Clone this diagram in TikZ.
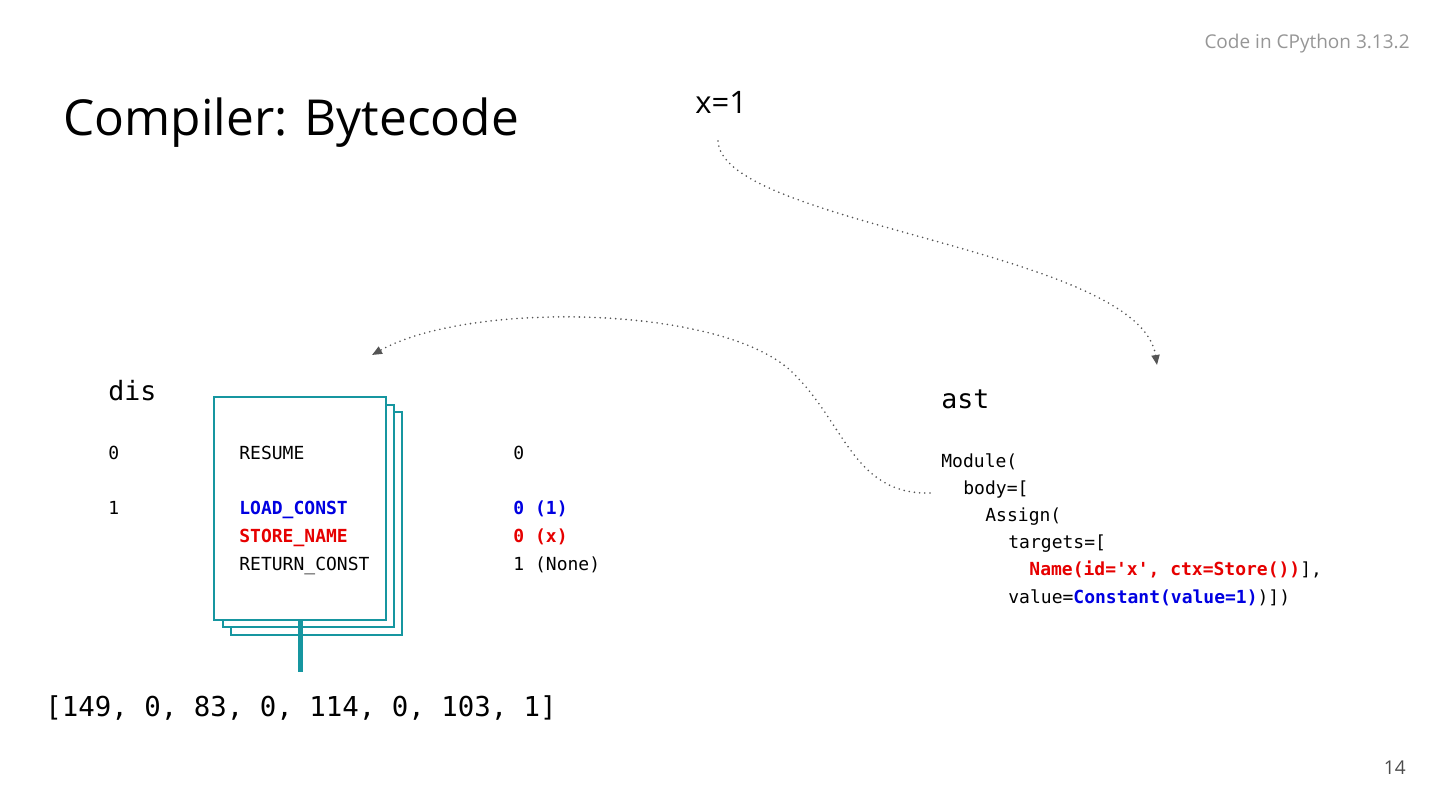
\documentclass[tikz,border=0pt]{standalone}
\usepackage{fontspec}
\setmainfont{Open Sans}
\newfontfamily\codefont{DejaVu Sans Mono}
\usetikzlibrary{arrows.meta, positioning, calc}
\definecolor{teal}{RGB}{22,150,160}
\definecolor{kwblue}{RGB}{0,0,225}
\definecolor{kwred}{RGB}{230,0,0}
\definecolor{note}{RGB}{150,150,150}
\definecolor{flow}{RGB}{85,85,85}
\tikzset{
  ttl/.style  ={font=\fontsize{24.8}{30}\selectfont, inner sep=0pt, anchor=base west},
  src/.style  ={font=\fontsize{15.5}{18}\selectfont, inner sep=0pt, anchor=base west},
  hdr/.style  ={font=\codefont\fontsize{13.3}{16}\selectfont, inner sep=0pt, anchor=base west},
  cde/.style  ={font=\codefont\fontsize{9}{11}\selectfont, inner sep=0pt, anchor=base west},
  cdeB/.style ={cde, font=\codefont\bfseries\fontsize{9}{11}\selectfont, text=kwblue},
  cdeR/.style ={cde, font=\codefont\bfseries\fontsize{9}{11}\selectfont, text=kwred},
  page/.style ={draw=teal, line width=1pt, fill=white},
  flw/.style  ={flow, line width=0.9pt, line cap=round, dash pattern=on 0pt off 2.6pt,
                -{Triangle[length=5pt, width=4pt]}},
  notetxt/.style ={font=\fontsize{9.5}{11}\selectfont, text=note, inner sep=0pt},
}
\begin{document}
\begin{tikzpicture}[x=0.5pt, y=-0.5pt]
  \useasboundingbox (0,0) rectangle (1440,810);
  \node[notetxt, anchor=base east] (ver) at (1410,48) {Code in CPython 3.13.2};
  \node[ttl] (title) at (63,135) {Compiler: Bytecode};
  \node[src] (xeq) at (695,113) {x=1};
  % stacked code pages
  \draw[page] (231,412) rectangle (402,635);
  \draw[page] (223,405) rectangle (394,627);
  \draw[page] (214,397) rectangle (386,620);
  \coordinate (stem) at (300,620);
  \coordinate (stemend) at (300,672);
  \draw[teal, line width=2.5pt] (stem) -- (stemend);
  % dis listing
  \node[hdr] (dis) at (108,400) {dis};
  \node[cde] (o0) at (108,459) {0};
  \node[cde] (n0) at (239,459) {RESUME};
  \node[cde] (a0) at (513,459) {0};
  \node[cde] (o1) at (108,514) {1};
  \node[cdeB] (n1) at (239,514) {LOAD\_CONST};
  \node[cdeB] (a1) at (513,514) {0 (1)};
  \node[cdeR] (n2) at (239,542) {STORE\_NAME};
  \node[cdeR] (a2) at (513,542) {0 (x)};
  \node[cde] (n3) at (239,570) {RETURN\_CONST};
  \node[cde] (a3) at (513,570) {1 (None)};
  \node[hdr, font=\codefont\fontsize{13.7}{16}\selectfont] (bytes) at (45,716) {[149, 0, 83, 0, 114, 0, 103, 1]};
  % ast dump
  \node[hdr] (ast) at (941,408) {ast};
  \node[cde] (m0) at (941,467) {Module(};
  \node[cde] (m1) at (963,494) {body=[};
  \node[cde] (m2) at (985,521) {Assign(};
  \node[cde] (m3) at (1008,548) {targets=[};
  \node[cde] (m4) at (1029,575) {\textcolor{kwred}{\bfseries Name(id='x', ctx=Store())}],};
  \node[cde] (m5) at (1008,603) {value=\textcolor{kwblue}{\bfseries Constant(value=1)})])};
  % flow arrows
  \coordinate (srcout) at (718,141);
  \coordinate (astin) at (1157,365);
  \coordinate (astout) at (930,493);
  \coordinate (disin) at (372,355);
  \draw[flw] (srcout) .. controls (722,225) and (1140,250) .. (astin);
  \draw[flw] (astout) .. controls (855,495) and (845,425) .. (795,375)
                      .. controls (730,305) and (470,300) .. (disin);
  \node[notetxt, text=black!70, anchor=base east] (pg) at (1406,774) {14};
\end{tikzpicture}
\end{document}
